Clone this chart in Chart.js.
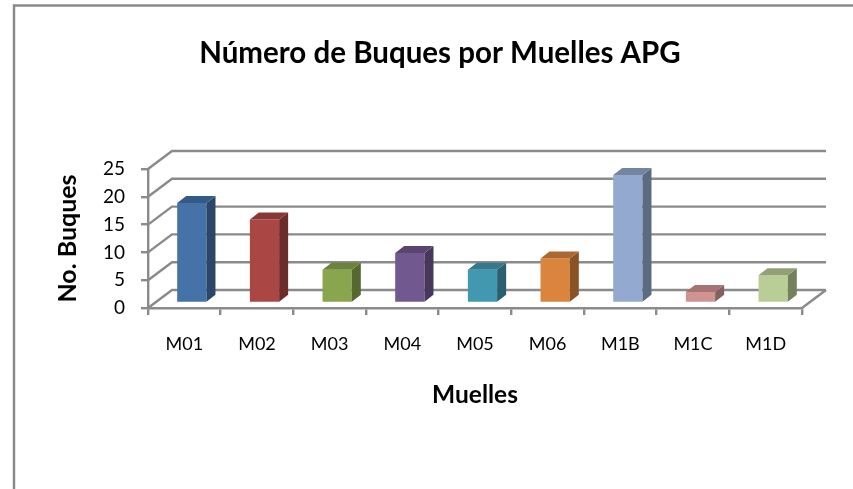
<!DOCTYPE html>
<html>
<head>
<meta charset="utf-8">
<style>
  html, body { margin: 0; padding: 0; background: #fff; overflow: hidden; }
  #wrap { position: relative; width: 853px; height: 489px; }
</style>
<script src="https://cdn.jsdelivr.net/npm/chart.js@4"></script>
</head>
<body>
<div id="wrap"><canvas id="chart_canvas" width="853" height="489"></canvas></div>
<script>
const categories = ['M01', 'M02', 'M03', 'M04', 'M05', 'M06', 'M1B', 'M1C', 'M1D'];
const buques = [18, 15, 6, 9, 6, 8, 23, 2, 5];
const chartTitle = 'Número de Buques por Muelles APG';
const xTitle = 'Muelles';
const yTitle = 'No. Buques';

const frontColors = ['#4572a7', '#aa4643', '#89a54e', '#71588f', '#4198af', '#db843d', '#93a9cf', '#d19392', '#b9cd96'];
const sideColors = ['#2b4669', '#6b2c2a', '#566731', '#47375a', '#295f6e', '#8a5326', '#5c6a82', '#84605f', '#74815e'];
const topColors = ['#345a87', '#873735', '#6c833d', '#5a4572', '#337a8c', '#ad6830', '#74869f', '#a67473', '#939f77'];

const gridColor = '#8a8a8a';
// how far the back wall sits from the front edge of the floor
const wallDx = 24, wallDy = 18;
// bars stand a little inside the floor
const barDx = 7.5, barDy = 5;
// depth of a bar
const depthX = 9, depthY = 7;

const walls = {
    id: 'walls',
    beforeDatasetsDraw(chart) {
        const { ctx, scales: { y }, chartArea } = chart;
        ctx.save();
        ctx.strokeStyle = gridColor;
        ctx.lineWidth = 2.4;
        y.ticks.forEach(t => {
            const py = y.getPixelForValue(t.value);
            ctx.beginPath();
            ctx.moveTo(chartArea.left, py);
            ctx.lineTo(chartArea.left + wallDx, py - wallDy);
            ctx.lineTo(chartArea.right + wallDx, py - wallDy);
            ctx.stroke();
        });
        // right edge of the floor
        const y0 = y.getPixelForValue(0);
        ctx.beginPath();
        ctx.moveTo(chartArea.right, y0);
        ctx.lineTo(chartArea.right + wallDx, y0 - wallDy);
        ctx.stroke();
        ctx.restore();

        // outer frame of the chart, open at the bottom
        ctx.save();
        ctx.strokeStyle = gridColor;
        ctx.lineWidth = 2.5;
        ctx.beginPath();
        ctx.moveTo(14, 489);
        ctx.lineTo(14, 5.5);
        ctx.lineTo(853, 5.5);
        ctx.stroke();
        ctx.restore();

        ctx.save();
        ctx.translate(barDx, -barDy);
    },
    afterDatasetsDraw(chart) {
        const { ctx } = chart;
        chart.getDatasetMeta(0).data.forEach((bar, i) => {
            const r = bar.x + bar.width / 2;
            const l = bar.x - bar.width / 2;
            ctx.fillStyle = sideColors[i];
            ctx.beginPath();
            ctx.moveTo(r, bar.y);
            ctx.lineTo(r + depthX, bar.y - depthY);
            ctx.lineTo(r + depthX, bar.base - depthY);
            ctx.lineTo(r, bar.base);
            ctx.closePath();
            ctx.fill();
            ctx.fillStyle = topColors[i];
            ctx.beginPath();
            ctx.moveTo(l, bar.y);
            ctx.lineTo(l + depthX, bar.y - depthY);
            ctx.lineTo(r + depthX, bar.y - depthY);
            ctx.lineTo(r, bar.y);
            ctx.closePath();
            ctx.fill();
        });
        ctx.restore();
    },
    afterLayout(chart) {
        // title is centred a bit right of the canvas
        chart.titleBlock.left = 27;
        chart.titleBlock.right = 853;
    }
};

$ready();

function $ready() {
    const ctx = document.getElementById('chart_canvas').getContext('2d');
    new Chart(ctx, {
        type: 'bar',
        data: {
            labels: categories,
            datasets: [{
                data: buques,
                backgroundColor: frontColors,
                barPercentage: 0.403,
                categoryPercentage: 1
            }]
        },
        plugins: [walls],
        options: {
            responsive: false,
            animation: false,
            layout: { padding: { left: 20, right: 51, top: 0, bottom: 0 } },
            plugins: {
                legend: { display: false },
                tooltip: { enabled: false },
                title: {
                    display: true,
                    text: chartTitle,
                    color: '#000',
                    font: { family: 'Lato', size: 29.5, weight: 'bold' },
                    padding: { top: 36, bottom: 97.6 }
                }
            },
            scales: {
                x: {
                    afterFit: s => { s.height = 181; },
                    grid: { drawOnChartArea: false, color: gridColor, lineWidth: 2.4, tickLength: 7, offset: true },
                    border: { color: gridColor, width: 2.4 },
                    ticks: { color: '#000', font: { family: 'Lato', size: 18 }, padding: 18, maxRotation: 0 },
                    title: {
                        display: true,
                        text: xTitle,
                        color: '#000',
                        font: { family: 'Lato', size: 24.5, weight: 'bold' },
                        padding: { bottom: 79 }
                    }
                },
                y: {
                    min: 0,
                    max: 25,
                    afterFit: s => { s.width = 128; },
                    grid: { drawOnChartArea: false, color: gridColor, lineWidth: 2.4, tickLength: 7 },
                    border: { color: gridColor, width: 2.4 },
                    ticks: { stepSize: 5, color: '#000', font: { family: 'Lato', size: 19 }, padding: 16 },
                    title: {
                        display: true,
                        text: yTitle,
                        color: '#000',
                        font: { family: 'Lato', size: 25, weight: 'bold' },
                        padding: { top: 33, bottom: 0 }
                    }
                }
            }
        }
    });
}
</script>
</body>
</html>
